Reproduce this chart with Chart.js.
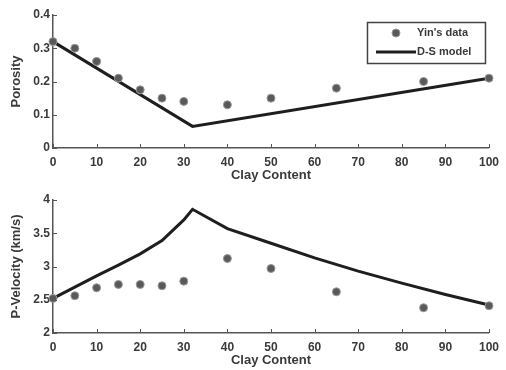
<!DOCTYPE html>
<html>
<head>
<meta charset="utf-8">
<script src="https://cdn.jsdelivr.net/npm/chart.js@4/dist/chart.umd.min.js"></script>
<style>
  html, body { margin: 0; padding: 0; background: #fff; }
  .panel { position: absolute; left: 0; width: 506px; height: 185px; }
  #top { top: 0; }
  #bottom { top: 185px; }
</style>
</head>
<body>
<div class="panel" id="top"><canvas id="porosityChart" width="506" height="185"></canvas></div>
<div class="panel" id="bottom"><canvas id="velocityChart" width="506" height="185"></canvas></div>
<script>
// measured samples
const clayData = [0, 5, 10, 15, 20, 25, 30, 40, 50, 65, 85, 100];
const porosityData = [0.32, 0.30, 0.26, 0.21, 0.175, 0.15, 0.14, 0.13, 0.15, 0.18, 0.20, 0.21];
const velocityData = [2.52, 2.56, 2.68, 2.73, 2.73, 2.71, 2.78, 3.12, 2.97, 2.62, 2.38, 2.41];

// model curves
const modelClayPorosity = [0, 32, 100];
const modelPorosity = [0.32, 0.065, 0.21];
const modelClayVelocity = [0, 5, 10, 15, 20, 25, 30, 32, 40, 50, 60, 70, 80, 90, 100];
const modelVelocity = [2.52, 2.69, 2.86, 3.02, 3.19, 3.39, 3.70, 3.86, 3.57, 3.35, 3.13, 2.93, 2.75, 2.58, 2.42];

const xTicks = [0, 10, 20, 30, 40, 50, 60, 70, 80, 90, 100];
const porosityTicks = [0, 0.1, 0.2, 0.3, 0.4];
const velocityTicks = [2, 2.5, 3, 3.5, 4];

const seriesNames = ["Yin's data", 'D-S model'];

const FONT = 'Liberation Sans, Arial, sans-serif';
const TEXT = '#3a3a3a';

function pairs(xs, ys) {
  return xs.map((x, i) => ({x: x, y: ys[i]}));
}

// short tick marks pointing into the plot
const innerTicks = {
  id: 'innerTicks',
  afterDraw(chart) {
    const ctx = chart.ctx;
    const xs = chart.scales.x, ys = chart.scales.y;
    ctx.save();
    ctx.strokeStyle = '#555';
    ctx.lineWidth = 1;
    ctx.beginPath();
    xs.ticks.forEach(t => {
      const px = Math.round(xs.getPixelForValue(t.value)) + 0.5;
      ctx.moveTo(px, ys.bottom);
      ctx.lineTo(px, ys.bottom - 4);
    });
    ys.ticks.forEach(t => {
      const py = Math.round(ys.getPixelForValue(t.value)) + 0.5;
      ctx.moveTo(xs.left, py);
      ctx.lineTo(xs.left + 4, py);
    });
    ctx.stroke();
    ctx.restore();
  }
};

// boxed legend in the upper right corner of the plot
const boxLegend = {
  id: 'boxLegend',
  afterDraw(chart, args, opts) {
    if (!opts.show) return;
    const ctx = chart.ctx;
    const area = chart.chartArea;
    const sets = chart.data.datasets;
    ctx.save();
    ctx.font = 'bold 11px ' + FONT;
    const w = 118, h = 41;
    const left = area.right - 4 - w, top = area.top + 7;
    ctx.fillStyle = '#fff';
    ctx.fillRect(left, top, w, h);
    ctx.strokeStyle = '#444';
    ctx.lineWidth = 1.5;
    ctx.strokeRect(left + 0.5, top + 0.5, w, h);
    ctx.textBaseline = 'middle';
    ctx.textAlign = 'left';
    sets.forEach((ds, i) => {
      const cy = top + 11 + i * 19;
      if (ds.showLine === false) {
        ctx.beginPath();
        ctx.arc(left + 29, cy, ds.pointRadius, 0, Math.PI * 2);
        ctx.fillStyle = ds.pointBackgroundColor;
        ctx.fill();
        ctx.strokeStyle = ds.pointBorderColor;
        ctx.lineWidth = 1;
        ctx.stroke();
      } else {
        ctx.beginPath();
        ctx.moveTo(left + 9, cy);
        ctx.lineTo(left + 49, cy);
        ctx.strokeStyle = ds.borderColor;
        ctx.lineWidth = ds.borderWidth;
        ctx.stroke();
      }
      ctx.fillStyle = TEXT;
      ctx.fillText(ds.label, left + 50, cy);
    });
    ctx.restore();
  }
};

function makeChart(id, measured, modelX, modelY, yMin, yMax, yTicks, yTitle, showLegend) {
  const ctx = document.getElementById(id).getContext('2d');
  return new Chart(ctx, {
    type: 'scatter',
    data: {
      datasets: [
        {
          label: seriesNames[0],
          data: pairs(clayData, measured),
          showLine: false,
          clip: false,
          pointRadius: 4,
          pointBackgroundColor: '#595959',
          pointBorderColor: '#9a9a9a',
          pointBorderWidth: 1
        },
        {
          label: seriesNames[1],
          data: pairs(modelX, modelY),
          showLine: true,
          clip: false,
          borderColor: '#1e1e1e',
          borderWidth: 3,
          pointRadius: 0,
          tension: 0
        }
      ]
    },
    options: {
      responsive: false,
      animation: false,
      layout: { padding: { top: 15, right: 16, left: 0, bottom: 0 } },
      plugins: {
        legend: { display: false },
        tooltip: { enabled: false },
        boxLegend: { show: showLegend }
      },
      scales: {
        x: {
          type: 'linear',
          min: 0,
          max: 100,
          afterBuildTicks: s => { s.ticks = xTicks.map(v => ({value: v})); },
          afterFit: s => { s.height = 37; },
          grid: { display: false, drawTicks: false },
          border: { color: '#555', width: 1.5 },
          ticks: {
            color: TEXT,
            padding: 7,
            callback: v => String(v),
            font: { family: FONT, size: 12, weight: 'bold' }
          },
          title: {
            display: true,
            text: 'Clay Content',
            color: TEXT,
            padding: { top: 0, bottom: 2 },
            font: { family: FONT, size: 13, weight: 'bold' }
          }
        },
        y: {
          type: 'linear',
          min: yMin,
          max: yMax,
          afterBuildTicks: s => { s.ticks = yTicks.map(v => ({value: v})); },
          afterFit: s => { s.width = 53; },
          grid: { display: false, drawTicks: false },
          border: { color: '#555', width: 1.5 },
          ticks: {
            color: TEXT,
            padding: 3,
            callback: v => String(v),
            font: { family: FONT, size: 12, weight: 'bold' }
          },
          title: {
            display: true,
            text: yTitle,
            color: TEXT,
            padding: { top: 9, bottom: 0 },
            font: { family: FONT, size: 13, weight: 'bold' }
          }
        }
      }
    },
    plugins: [innerTicks, boxLegend]
  });
}

makeChart('porosityChart', porosityData, modelClayPorosity, modelPorosity, 0, 0.4, porosityTicks, 'Porosity', true);
makeChart('velocityChart', velocityData, modelClayVelocity, modelVelocity, 2, 4, velocityTicks, 'P-Velocity (km/s)', false);
</script>
</body>
</html>
